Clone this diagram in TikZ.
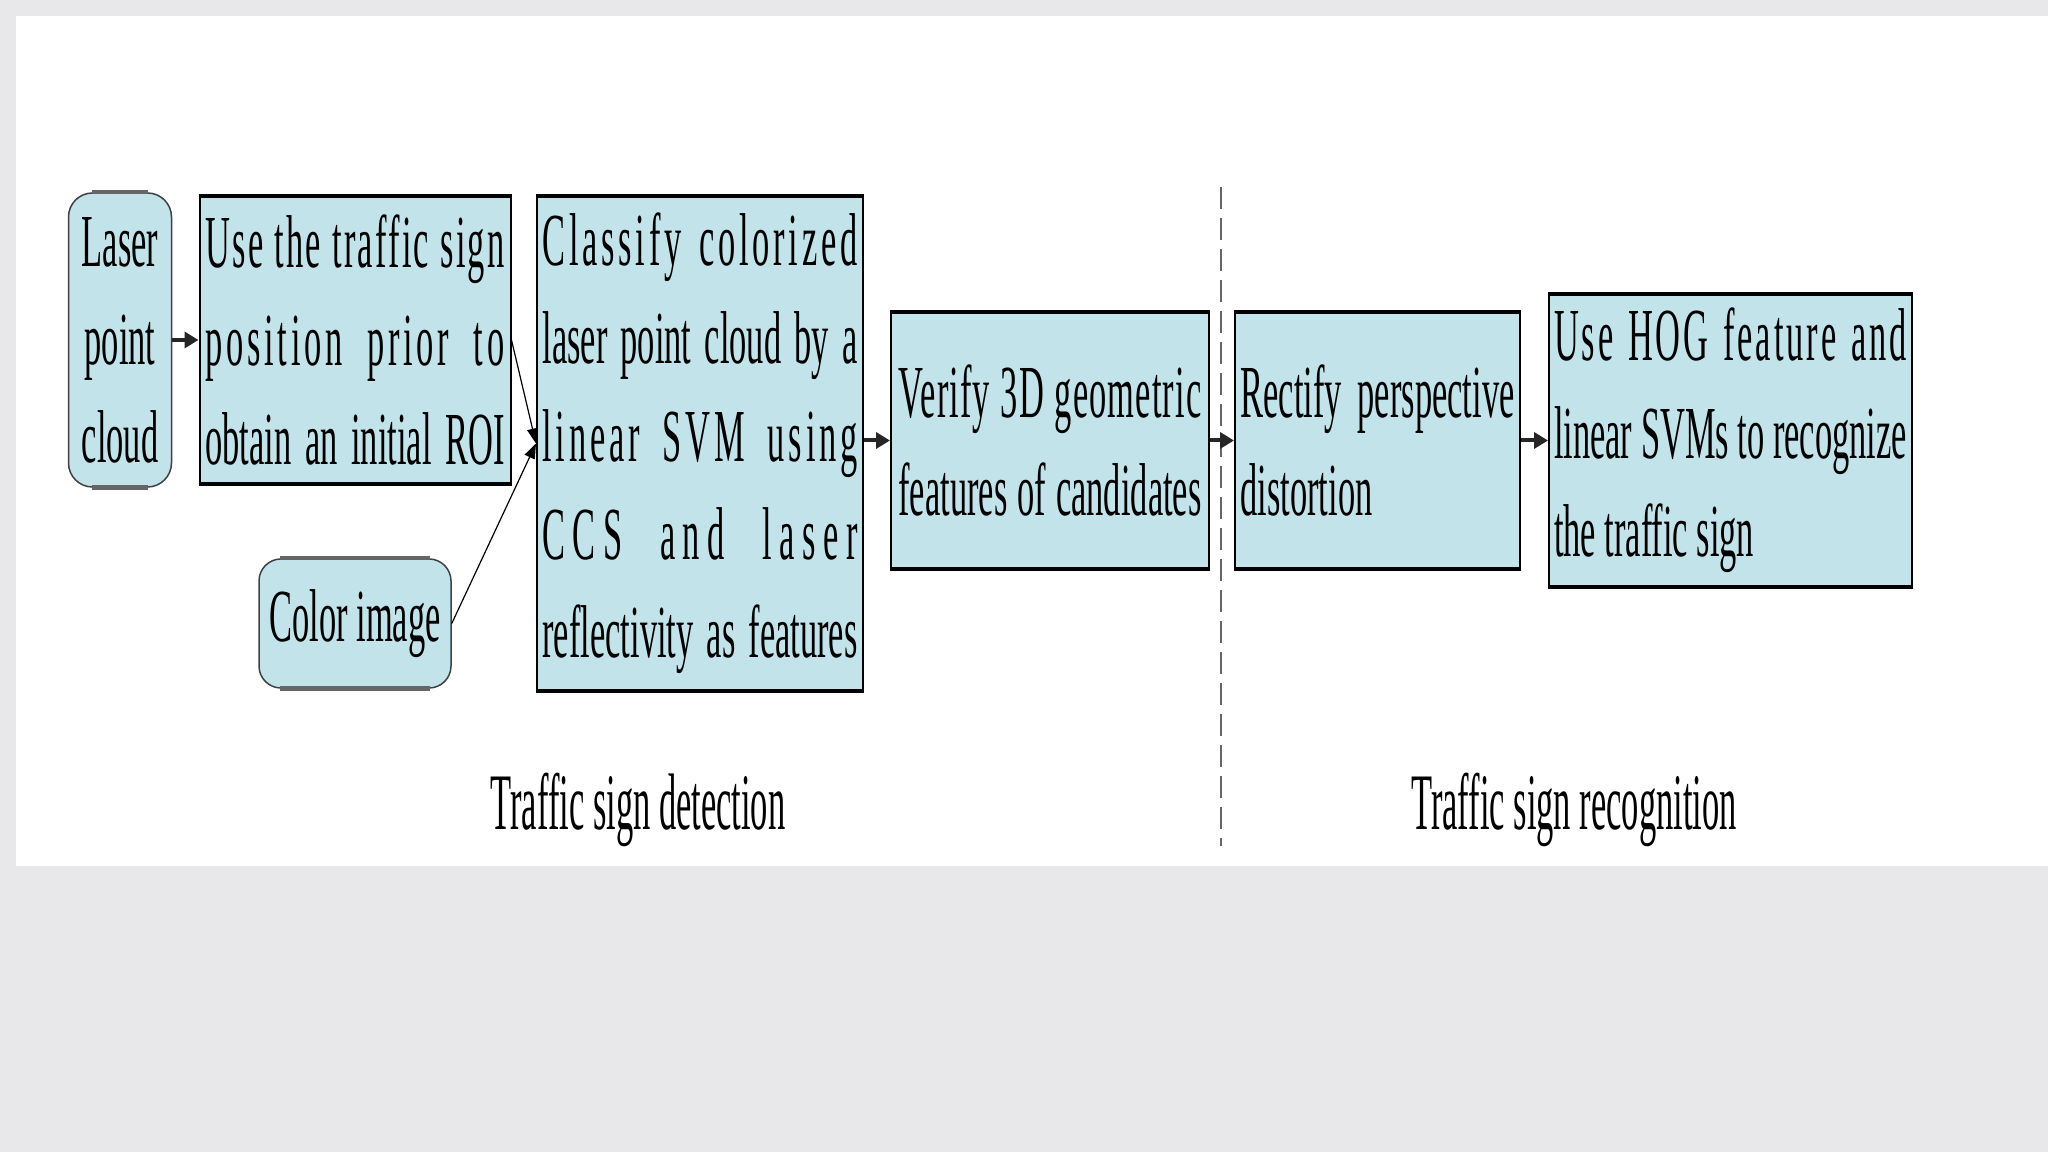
\documentclass[tikz,border=0pt]{standalone}
\usepackage{fontspec}
\usepackage{tikz}
\usetikzlibrary{arrows.meta,positioning}
\newfontfamily\flowfont[FakeStretch=0.46,WordSpace={1,4,1}]{Liberation Serif}
\newfontfamily\stagefont[FakeStretch=0.43]{Liberation Serif}
\definecolor{tsblue}{HTML}{C3E3EA}
\definecolor{tsgray}{HTML}{E8E7EA}
\definecolor{tsdash}{HTML}{666666}
% full-width line of a step box: width, text
\newcommand{\fline}[2]{\makebox[#1][s]{#2}}
% same, letter spaced: width, spacing, text
\newcommand{\sline}[3]{\makebox[#1][s]{\addfontfeature{LetterSpace=#2}#3}}

\begin{document}
\begin{tikzpicture}[x=0.1mm,y=-0.1mm,
    font={\flowfont\fontsize{21.3pt}{27.9pt}\selectfont},
    stagebox/.style={draw,fill=tsblue,line width=0.2mm,inner sep=0pt,align=left},
    srcbox/.style={draw=black!75,fill=tsblue,line width=0.15mm,rounded corners=2.4mm,inner sep=0pt,align=center},
    edge/.style={line width=0.45mm},
    arrow/.style={-{Triangle[length=1.4mm,width=1.6mm]},line width=0.4mm,black!85},
    thin arrow/.style={-{Triangle[length=1.5mm,width=1.1mm]},line width=0.12mm},
    divider/.style={tsdash,line width=0.2mm,dash pattern=on 2.2mm off 0.9mm}
  ]
  \useasboundingbox (0,0) rectangle (2048,1152);
  \fill[tsgray] (0,0) rectangle (2048,1152);
  \fill[white] (16,16) rectangle (2048,866);

  % detection | recognition
  \coordinate (sepTop) at (1221,187);
  \coordinate (sepBot) at (1221,846);
  \draw[divider] (sepTop) -- (sepBot);

  \node[srcbox,minimum width=10.3mm,minimum height=29.4mm] (laser) at (120,340) {Laser\\point\\cloud};
  \node[stagebox,minimum width=31.1mm,minimum height=28.6mm] (roi) at (355,340)
    {\sline{29.9mm}{3}{Use the traffic sign}\\\sline{29.9mm}{5}{position prior to}\\\fline{29.9mm}{obtain an initial ROI}};
  \node[srcbox,rounded corners=2.2mm,minimum width=19.2mm,minimum height=12.9mm] (colorimg) at (355,623.5) {Color image};
  \node[stagebox,minimum width=32.6mm,minimum height=49.3mm] (classify) at (700,443.5)
    {\sline{31.5mm}{5}{Classify colorized}\\\fline{31.5mm}{laser point cloud by a}\\\sline{31.5mm}{5}{linear SVM using}\\
     \sline{31.5mm}{10}{CCS and laser}\\\fline{31.5mm}{reflectivity as features}};
  \node[stagebox,minimum width=31.8mm,minimum height=25.5mm] (verify) at (1050,440.5)
    {\sline{30.3mm}{1.5}{Verify 3D geometric}\\\fline{30.3mm}{features of candidates}};
  \node[stagebox,minimum width=28.5mm,minimum height=25.5mm] (rectify) at (1377.5,440.5)
    {\fline{27.4mm}{Rectify perspective}\\distortion};
  \node[stagebox,minimum width=36.3mm,minimum height=29.1mm] (hog) at (1730.5,440.5)
    {\sline{35.3mm}{4}{Use HOG feature and}\\\fline{35.3mm}{linear SVMs to recognize}\\the traffic sign};

  % heavier top and bottom edges
  \foreach \n in {roi,classify,verify,rectify,hog}{
    \draw[edge] (\n.north west) -- (\n.north east);
    \draw[edge] (\n.south west) -- (\n.south east);
  }
  \foreach \n/\r in {laser/2.4mm,colorimg/2.2mm}{
    \draw[edge,black!60] ([xshift=\r]\n.north west) -- ([xshift=-\r]\n.north east);
    \draw[edge,black!60] ([xshift=\r]\n.south west) -- ([xshift=-\r]\n.south east);
  }

  \draw[arrow] (laser) -- (roi);
  \draw[thin arrow] (roi.east) -- (classify.west);
  \draw[thin arrow] (colorimg.east) -- (classify.west);
  \draw[arrow] (verify.west -| classify.east) -- (verify.west);
  \draw[arrow] (verify) -- (rectify);
  \draw[arrow] (rectify) -- (hog);

  \node[font={\stagefont\fontsize{22.8pt}{27pt}\selectfont},anchor=base] (detlabel) at (638,830) {Traffic sign detection};
  \node[font={\stagefont\fontsize{22.8pt}{27pt}\selectfont},anchor=base] (reclabel) at (1574,830) {Traffic sign recognition};
\end{tikzpicture}
\end{document}
